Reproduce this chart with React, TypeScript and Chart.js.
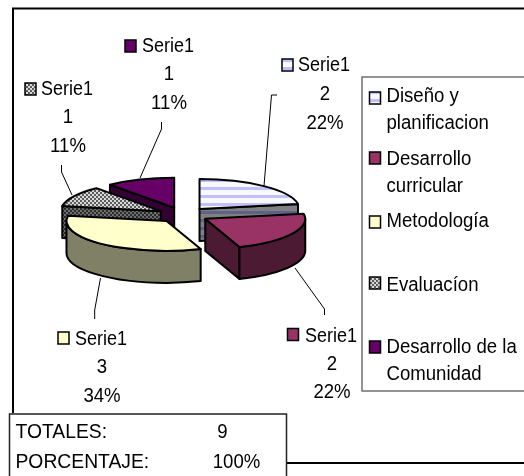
import React, { useEffect, useRef } from "react";
import { Chart, registerables } from "chart.js";

Chart.register(...registerables);

const categories = ["Diseño y planificacion", "Desarrollo curricular", "Metodología", "Evaluacíon", "Desarrollo de la Comunidad"];
const values = [2, 2, 3, 1, 1];
const percentLabels = ["22%", "22%", "34%", "11%", "11%"];
const seriesName = "Serie1";
const legendLines = [["Diseño y", "planificacion"], ["Desarrollo", "curricular"], ["Metodología"], ["Evaluacíon"], ["Desarrollo de la", "Comunidad"]];
const totalRows = [["TOTALES:", "9"], ["PORCENTAJE:", "100%"]];

const FONT = '20px "Liberation Sans", Arial, sans-serif';
const SQUASH = 0.3;
const DEPTH = 32;
const drawOrder = [4, 3, 0, 2, 1];

// layout of the decoration, indexed like the categories
const labelPos = [
  { sx: 282, sy: 59, tx: 298, cx: 325, b: [71, 100, 129] },
  { sx: 287.5, sy: 328.5, tx: 305, cx: 332, b: [341.5, 370, 398] },
  { sx: 58, sy: 332, tx: 75, cx: 102, b: [344.5, 373, 402] },
  { sx: 25, sy: 83, tx: 41, cx: 68, b: [95, 123, 152] },
  { sx: 125, sy: 40, tx: 142, cx: 169, b: [52, 80, 109] },
];
const leaders = [
  [[277, 95], [271.5, 95], [264, 186]],
  [[295, 268], [324.5, 309], [324.5, 315]],
  [[100.5, 278], [94.7, 310], [94.7, 319]],
  [[61.5, 165], [61.5, 172], [72, 195]],
  [[161.5, 122], [161.5, 129], [140, 178]],
];
const legendSwatchY = [92, 152, 216, 277, 341];
const legendBaselines = [[102, 129], [165, 192], [227], [291], [353, 380]];

function stripes(fg: string, bg: string) {
  const c = document.createElement("canvas");
  c.width = 8; c.height = 8;
  const x = c.getContext("2d")!;
  x.fillStyle = bg; x.fillRect(0, 0, 8, 8);
  x.fillStyle = fg; x.fillRect(0, 3, 8, 3);
  return x.createPattern(c, "repeat")!;
}
function checker(a: string, b: string) {
  const c = document.createElement("canvas");
  c.width = 4; c.height = 4;
  const x = c.getContext("2d")!;
  x.fillStyle = a; x.fillRect(0, 0, 4, 4);
  x.fillStyle = b; x.fillRect(0, 0, 2, 2); x.fillRect(2, 2, 2, 2);
  return x.createPattern(c, "repeat")!;
}

export default function App() {
  const ref = useRef<HTMLCanvasElement>(null);
  useEffect(() => {
    document.body.style.margin = "0";
    const topFill: any[] = [stripes("#c0c0ff", "#f8f8ff"), "#993366", "#ffffcc", checker("#d8d8d8", "#5c5c5c"), "#660066"];
    const sideFill: any[] = [stripes("#60608c", "#808080"), "#4d1a33", "#808066", checker("#707070", "#2c2c2c"), "#330033"];

    const pie3d = {
      id: "pie3d",
      beforeDraw(chart: any) {
        const { ctx } = chart;
        ctx.save();
        ctx.fillStyle = "#ffffff";
        ctx.fillRect(0, 0, 524, 476);
        ctx.strokeStyle = "#000000";
        ctx.lineWidth = 2;
        ctx.beginPath();
        ctx.moveTo(13, 413); ctx.lineTo(13, 8.5); ctx.lineTo(524, 8.5);
        ctx.moveTo(287, 463); ctx.lineTo(524, 463);
        ctx.stroke();
        ctx.restore();
      },
      beforeDatasetDraw(chart: any) {
        const { ctx } = chart;
        const arcs = chart.getDatasetMeta(0).data;
        ctx.save();
        ctx.lineJoin = "round";
        ctx.strokeStyle = "#000000";
        ctx.lineWidth = 2;
        for (const i of drawOrder) {
          const a = arcs[i];
          const mid = (a.startAngle + a.endAngle) / 2;
          const off = a.options.offset;
          const ax = a.x + off * Math.cos(mid);
          const ay = a.y + off * SQUASH * Math.sin(mid);
          const rx = a.outerRadius;
          const ry = rx * SQUASH;
          const pt = (t: number) => [ax + rx * Math.cos(t), ay + ry * Math.sin(t)];
          // radial walls, only those that face the viewer
          const walls: [number, number][] = [[a.startAngle, -Math.PI / 2], [a.endAngle, Math.PI / 2]];
          for (const [t, turn] of walls) {
            if (Math.sin(t + turn) <= 1e-6) continue;
            const [px, py] = pt(t);
            ctx.beginPath();
            ctx.moveTo(ax, ay); ctx.lineTo(px, py); ctx.lineTo(px, py + DEPTH); ctx.lineTo(ax, ay + DEPTH);
            ctx.closePath();
            ctx.fillStyle = sideFill[i];
            ctx.fill(); ctx.stroke();
          }
          // outer rim: only the part of the arc that faces the viewer
          const twoPi = Math.PI * 2;
          for (const shift of [-twoPi, 0, twoPi]) {
            const s = Math.max(a.startAngle + shift, 0);
            const e = Math.min(a.endAngle + shift, Math.PI);
            if (e <= s) continue;
            ctx.beginPath();
            ctx.ellipse(ax, ay, rx, ry, 0, s, e);
            ctx.ellipse(ax, ay + DEPTH, rx, ry, 0, e, s, true);
            ctx.closePath();
            ctx.fillStyle = sideFill[i];
            ctx.fill(); ctx.stroke();
          }
          // top face
          ctx.beginPath();
          ctx.moveTo(ax, ay);
          ctx.ellipse(ax, ay, rx, ry, 0, a.startAngle, a.endAngle);
          ctx.closePath();
          ctx.fillStyle = topFill[i];
          ctx.fill(); ctx.stroke();
        }
        ctx.restore();
        return false;
      },
      afterDraw(chart: any) {
        const { ctx } = chart;
        ctx.save();
        ctx.font = FONT;
        ctx.textBaseline = "alphabetic";
        const text = (s: string, x: number, y: number, align: "left" | "center", sx: number) => {
          ctx.save();
          ctx.translate(x, y);
          ctx.scale(sx, 1);
          ctx.textAlign = align;
          ctx.fillStyle = "#000000";
          ctx.fillText(s, 0, 0);
          ctx.restore();
        };
        // leader lines
        ctx.strokeStyle = "#000000";
        ctx.lineWidth = 1;
        leaders.forEach((pts) => {
          ctx.beginPath();
          pts.forEach(([x, y], k) => (k ? ctx.lineTo(x, y) : ctx.moveTo(x, y)));
          ctx.stroke();
        });
        const swatch = (x: number, y: number, i: number) => {
          ctx.fillStyle = topFill[i];
          ctx.strokeStyle = "#000000";
          ctx.lineWidth = 1.5;
          ctx.fillRect(x, y, 11, 12);
          ctx.strokeRect(x, y, 11, 12);
        };
        // data labels
        categories.forEach((_, i) => {
          const p = labelPos[i];
          swatch(p.sx, p.sy, i);
          text(seriesName, p.tx, p.b[0], "left", 0.9);
          text(String(values[i]), p.cx, p.b[1], "center", 0.93);
          text(percentLabels[i], p.cx, p.b[2], "center", 0.93);
        });
        // legend
        ctx.strokeStyle = "#707070";
        ctx.lineWidth = 1.5;
        ctx.beginPath();
        ctx.moveTo(524, 77); ctx.lineTo(362, 77); ctx.lineTo(362, 391); ctx.lineTo(524, 391);
        ctx.stroke();
        legendLines.forEach((lines, i) => {
          swatch(369.5, legendSwatchY[i], i);
          lines.forEach((t, k) => text(t, 386.5, legendBaselines[i][k], "left", 0.93));
        });
        // totals box
        ctx.fillStyle = "#ffffff";
        ctx.fillRect(9, 414, 278, 62);
        ctx.strokeStyle = "#222222";
        ctx.lineWidth = 1.5;
        ctx.strokeRect(9.5, 414, 277, 70);
        const ys = [438, 468];
        const xs = [222.5, 236.5];
        totalRows.forEach((row, k) => {
          text(row[0], 15.5, ys[k], "left", 0.965);
          text(row[1], xs[k], ys[k], "center", 0.93);
        });
        ctx.restore();
      },
    };

    const chart = new Chart(ref.current!, {
      type: "pie",
      data: {
        labels: categories,
        datasets: [{ data: values, offset: 25.7, borderWidth: 0, backgroundColor: "#999999" }],
      },
      options: {
        responsive: false,
        animation: false,
        radius: 100,
        layout: { padding: { left: 53, right: 211, top: 85, bottom: 131 } },
        plugins: { legend: { display: false }, tooltip: { enabled: false } },
      },
      plugins: [pie3d],
    } as any);
    return () => chart.destroy();
  }, []);
  return <canvas ref={ref} width={524} height={476} style={{ position: "fixed", left: 0, top: 0, display: "block" }} />;
}
